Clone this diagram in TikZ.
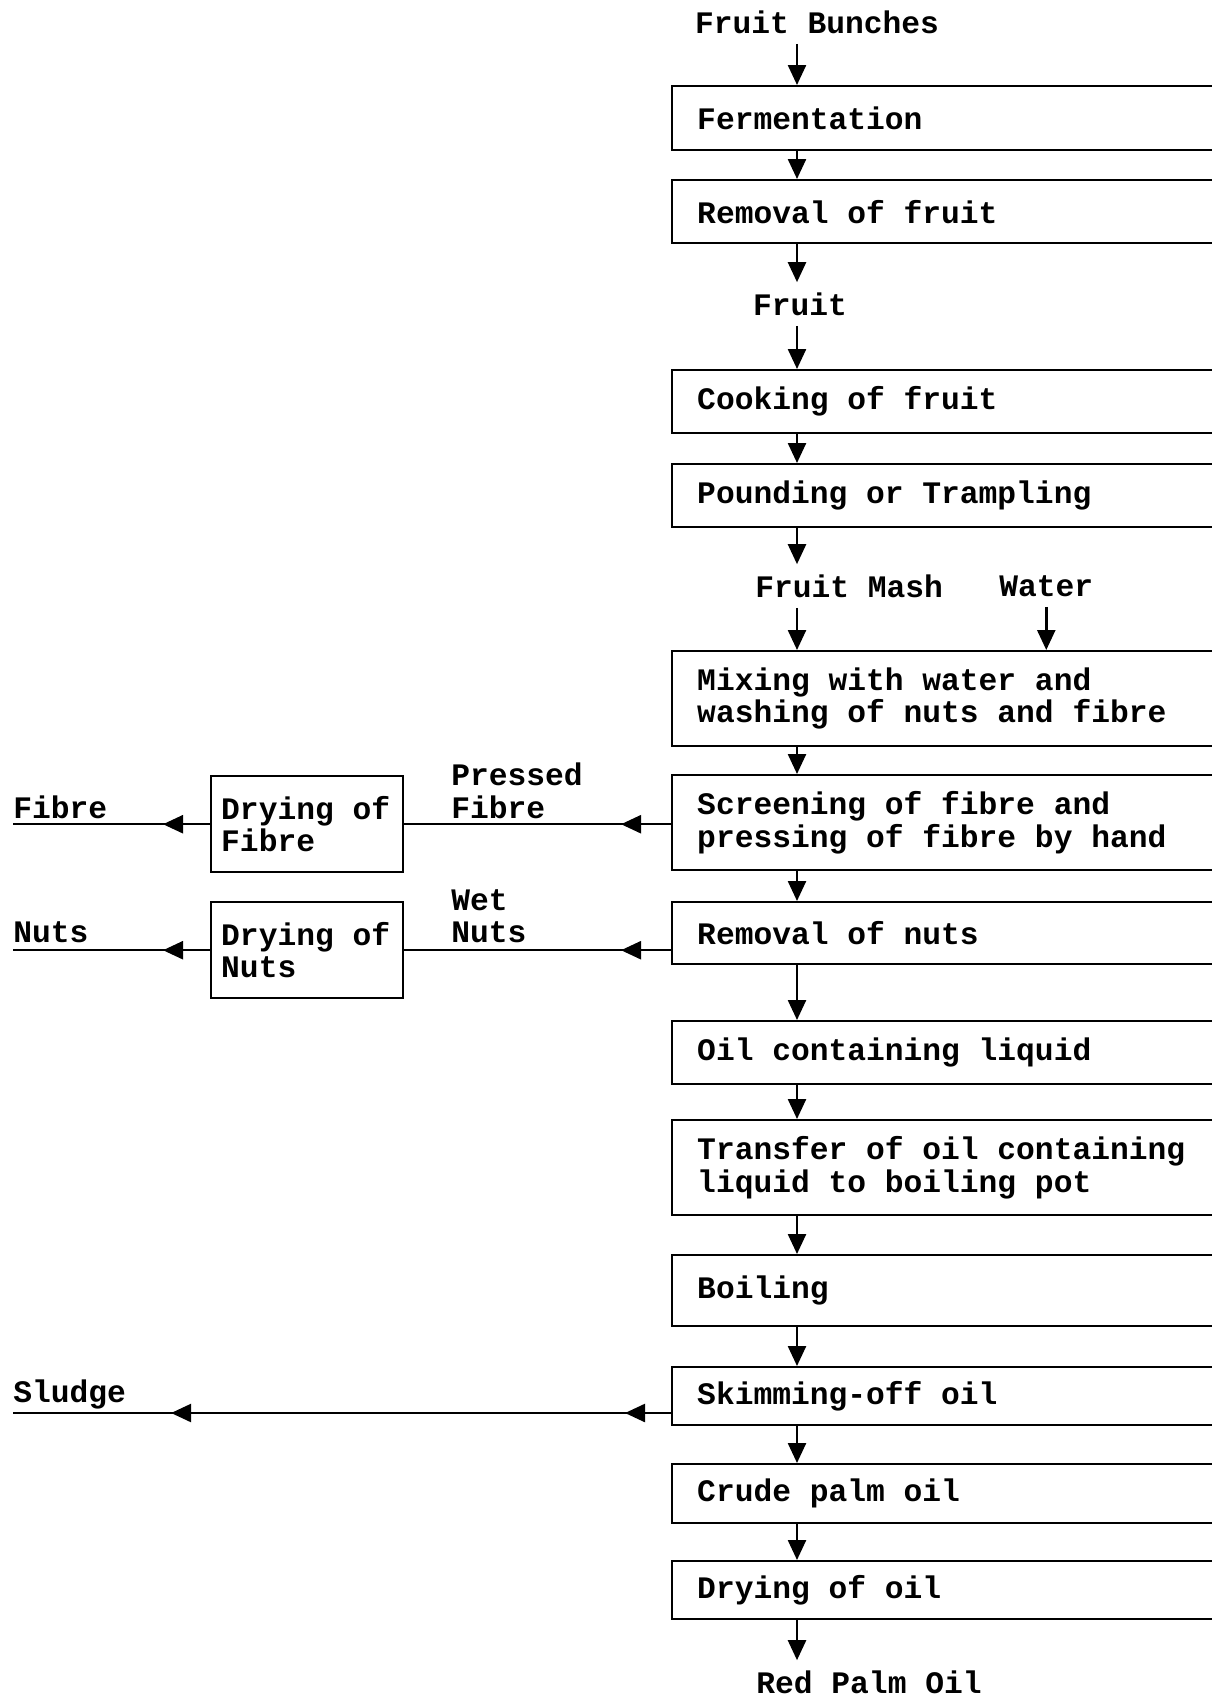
\documentclass[tikz,border=0pt]{standalone}
\usepackage{fontspec}
\setmonofont{Liberation Mono}
\usepackage{tikz}
\usetikzlibrary{arrows.meta, positioning, calc, decorations.markings}
\tikzset{
  procbox/.style={rectangle, draw, line width=1.4pt, anchor=north west,
    text width=10.4cm, inner xsep=0.5cm, inner ysep=0pt, align=flush left},
  sidebox/.style={rectangle, draw, line width=1.4pt, anchor=north west,
    text width=3.44cm, inner xsep=0.2cm, inner ysep=0pt, align=flush left,
    minimum height=1.92cm},
  lbl/.style={inner sep=0.2cm, align=left},
  flow/.style={-{Triangle[width=0.36cm, length=0.4cm]}, line width=1.4pt},
  sideflow/.style={line width=1.4pt, decoration={markings,
    mark=at position #1 with {\arrow{Triangle[width=0.36cm, length=0.4cm]}}},
    postaction={decorate}},
  sludgeflow/.style={line width=1.4pt, decoration={markings,
    mark=at position 0.92cm with {\arrow{Triangle[width=0.36cm, length=0.4cm]}},
    mark=at position 10cm with {\arrow{Triangle[width=0.36cm, length=0.4cm]}}},
    postaction={decorate}}
}

\begin{document}
\begin{tikzpicture}[x=0.02cm, y=-0.02cm, font=\ttfamily\bfseries\fontsize{17.8pt}{18.5pt}\selectfont]
  \useasboundingbox (0,0) rectangle (1211,1703);
  \coordinate (col) at (797,0);

  % Main column of process steps
  \node[lbl] (bunches) at (817,22) {Fruit Bunches};
  \node[procbox, minimum height=1.28cm] (ferm) at (671,85) {Fermentation};
  \node[procbox, minimum height=1.26cm] (remfruit) at (671,179) {Removal of fruit};
  \node[lbl] (fruit) at (800,304) {Fruit};
  \node[procbox, minimum height=1.26cm] (cook) at (671,369) {Cooking of fruit};
  \node[procbox, minimum height=1.26cm] (pound) at (671,463) {Pounding or Trampling};
  \node[lbl, anchor=west] (mash) at (745,586) {Fruit Mash};
  \node[lbl, anchor=west] (water) at (989,586) {Water};
  \node[procbox, minimum height=1.9cm] (mix) at (671,650) {Mixing with water and\\washing of nuts and fibre};
  \node[procbox, minimum height=1.9cm] (screen) at (671,774) {Screening of fibre and\\pressing of fibre by hand};
  \node[procbox, minimum height=1.24cm] (remnuts) at (671,901) {Removal of nuts};
  \node[procbox, minimum height=1.26cm] (oilliq) at (671,1020) {Oil containing liquid};
  \node[procbox, minimum height=1.9cm] (transfer) at (671,1119) {Transfer of oil containing\\liquid to boiling pot};
  \node[procbox, minimum height=1.42cm] (boil) at (671,1254) {Boiling};
  \node[procbox, minimum height=1.16cm] (skim) at (671,1366) {Skimming-off oil};
  \node[procbox, minimum height=1.18cm] (crude) at (671,1463) {Crude palm oil};
  \node[procbox, minimum height=1.16cm] (dryoil) at (671,1560) {Drying of oil};
  \node[lbl] (redoil) at (869,1682) {Red Palm Oil};

  % Side streams
  \node[sidebox] (dryfib) at (210,775) {Drying of\\Fibre};
  \node[sidebox] (drynuts) at (210,901) {Drying of\\Nuts};
  \node[lbl, anchor=west] (fibtxt) at (3,807) {Fibre};
  \node[lbl, anchor=west] (nutstxt) at (3,932) {Nuts};
  \node[lbl, anchor=west] (pressed) at (441,791) {Pressed\\Fibre};
  \node[lbl, anchor=west] (wetnuts) at (441,916) {Wet\\Nuts};
  \node[lbl, anchor=west] (sludgetxt) at (3,1394) {Sludge};
  \coordinate (skimout) at (671,1413);

  % Flow down the column
  \draw[flow] (bunches.south -| col) -- (ferm.north -| col);
  \draw[flow] (ferm.south -| col) -- (remfruit.north -| col);
  \draw[flow] (remfruit.south -| col) -- (fruit.north -| col);
  \draw[flow] (fruit.south -| col) -- (cook.north -| col);
  \draw[flow] (cook.south -| col) -- (pound.north -| col);
  \draw[flow] (pound.south -| col) -- (mash.north -| col);
  \draw[flow] (mash.south -| col) -- (mix.north -| col);
  \draw[flow] (water.south) -- (water.south |- mix.north);
  \draw[flow] (mix.south -| col) -- (screen.north -| col);
  \draw[flow] (screen.south -| col) -- (remnuts.north -| col);
  \draw[flow] (remnuts.south -| col) -- (oilliq.north -| col);
  \draw[flow] (oilliq.south -| col) -- (transfer.north -| col);
  \draw[flow] (transfer.south -| col) -- (boil.north -| col);
  \draw[flow] (boil.south -| col) -- (skim.north -| col);
  \draw[flow] (skim.south -| col) -- (crude.north -| col);
  \draw[flow] (crude.south -| col) -- (dryoil.north -| col);
  \draw[flow] (dryoil.south -| col) -- (redoil.north -| col);

  % Flow out to the left
  \draw[sideflow=1.0cm] (screen.west |- dryfib.east) -- (dryfib.east);
  \draw[sideflow=0.94cm] (dryfib.west) -- (dryfib.west -| fibtxt.text);
  \draw[sideflow=1.0cm] (remnuts.west |- drynuts.east) -- (drynuts.east);
  \draw[sideflow=0.94cm] (drynuts.west) -- (drynuts.west -| nutstxt.text);
  \draw[sludgeflow] (skimout) -- (skimout -| sludgetxt.text);
\end{tikzpicture}
\end{document}
